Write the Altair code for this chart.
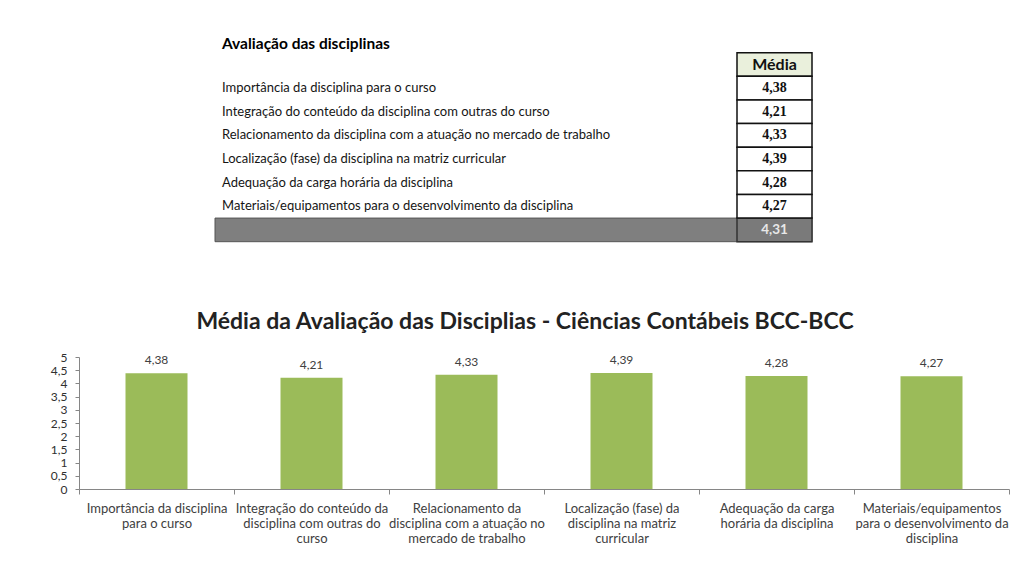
import altair as alt
import pandas as pd

# ---------------- data ----------------
titulo_tabela = "Avaliação das disciplinas"
cabecalho = "Média"
titulo_grafico = "Média da Avaliação das Disciplias - Ciências Contábeis BCC-BCC"

categorias = [
    "Importância da disciplina para o curso",
    "Integração do conteúdo da disciplina com outras do curso",
    "Relacionamento da disciplina com a atuação no mercado de trabalho",
    "Localização (fase) da disciplina na matriz curricular",
    "Adequação da carga horária da disciplina",
    "Materiais/equipamentos para o desenvolvimento da disciplina",
]
rotulos_eixo = [
    "Importância da disciplina|para o curso",
    "Integração do conteúdo  da|disciplina com outras do|curso",
    "Relacionamento da|disciplina com a atuação no|mercado de trabalho",
    "Localização (fase) da|disciplina na matriz|curricular",
    "Adequação da carga|horária da disciplina",
    "Materiais/equipamentos|para o desenvolvimento da|disciplina",
]
medias = [4.38, 4.21, 4.33, 4.39, 4.28, 4.27]
media_geral = 4.31
y_ticks = [0, 0.5, 1, 1.5, 2, 2.5, 3, 3.5, 4, 4.5, 5]

# ---------------- tables ----------------
df = pd.DataFrame({"linha": categorias, "rotulo": rotulos_eixo, "media": medias})
df_head = pd.DataFrame({"linha": [cabecalho], "texto": [cabecalho]})
df_total = pd.DataFrame({"linha": ["Total"], "media": [media_geral]})
linhas = [cabecalho] + categorias + ["Total"]

fmt = "replace(format(datum.media, '.2f'), '.', ',')"

row_scale = alt.Scale(domain=linhas, range=[52.7, 241.7], paddingInner=0, paddingOuter=0)
Yrow = alt.Y("linha:N", scale=row_scale, axis=None)

X0, X1 = 737, 812

head_rect = alt.Chart(df_head).mark_rect(fill="#EAF0DC", stroke="#111", strokeWidth=1.5).encode(
    x=alt.value(X0), x2=alt.value(X1), y=Yrow)
head_text = alt.Chart(df_head).mark_text(font="Lato", fontWeight="bold", fontSize=16, color="#111").encode(
    x=alt.value((X0 + X1) / 2), y=Yrow, text="texto:N")

val_rect = alt.Chart(df).mark_rect(fill="white", stroke="#111", strokeWidth=1.5).encode(
    x=alt.value(X0), x2=alt.value(X1), y=Yrow)
val_text = alt.Chart(df).transform_calculate(lab=fmt).mark_text(
    font="Liberation Serif", fontWeight="bold", fontSize=14, color="#111").encode(
    x=alt.value((X0 + X1) / 2), y=Yrow, text="lab:N")

item_text = alt.Chart(df).mark_text(align="left", font="Lato", fontSize=13, color="#151515").encode(
    x=alt.value(222), y=Yrow, text="linha:N")

tot_rect = alt.Chart(df_total).mark_rect(fill="#7F7F7F", stroke="#555", strokeWidth=1).encode(
    x=alt.value(215), x2=alt.value(X1), y=Yrow)
tot_cell = alt.Chart(df_total).mark_rect(fill="#7A7A7A", stroke="#333", strokeWidth=1.5).encode(
    x=alt.value(X0), x2=alt.value(X1), y=Yrow)
tot_text = alt.Chart(df_total).transform_calculate(lab=fmt).mark_text(
    font="Lato", fontWeight="bold", fontSize=13.5, color="#E8E8E8").encode(
    x=alt.value((X0 + X1) / 2), y=Yrow, text="lab:N")

title_tab = alt.Chart(pd.DataFrame({"t": [titulo_tabela]})).mark_text(
    align="left", font="Lato", fontWeight="bold", fontSize=15.5, color="#000").encode(
    x=alt.value(222), y=alt.value(44), text="t:N")

# ---------------- bar chart ----------------
xs = alt.Scale(domain=rotulos_eixo, range=[79, 1009], paddingInner=0, paddingOuter=0)
ys = alt.Scale(domain=[0, 5], range=[489, 357], nice=False)

bars = alt.Chart(df).mark_bar(color="#9BBB59", width=alt.RelativeBandSize(0.4)).encode(
    x=alt.X("rotulo:N", scale=xs, sort=None, title=None,
            axis=alt.Axis(labelExpr="split(datum.label, '|')", labelAngle=0, offset=-88,
                          tickBand="extent", tickSize=5, tickColor="#868686",
                          domainColor="#868686", labelFont="Lato", labelFontSize=13,
                          labelColor="#404040", labelLineHeight=15, labelPadding=8,
                          labelBaseline="top", labelLimit=0)),
    y=alt.Y("media:Q", scale=ys, title=None,
            axis=alt.Axis(values=y_ticks, labelExpr="replace(toString(datum.value), '.', ',')",
                          offset=-79, tickSize=4, tickColor="#868686", domainColor="#868686",
                          labelFont="Lato", labelFontSize=12, labelColor="#303030",
                          labelPadding=8, grid=False, labelOverlap=False)),
)
bar_labels = alt.Chart(df).transform_calculate(lab=fmt).mark_text(
    font="Lato", fontSize=12, color="#404040", dy=-9, baseline="alphabetic").encode(
    x=alt.X("rotulo:N", scale=xs, sort=None, axis=None),
    y=alt.Y("media:Q", scale=ys, axis=None),
    text="lab:N")

title_bar = alt.Chart(pd.DataFrame({"t": [titulo_grafico]})).mark_text(
    font="Lato", fontWeight="bold", fontSize=23, color="#222").encode(
    x=alt.value(525), y=alt.value(322), text="t:N")

chart = alt.layer(
    tot_rect, tot_cell, head_rect, val_rect, head_text, val_text, item_text, tot_text, title_tab,
    bars, bar_labels, title_bar,
).resolve_scale(x="independent", y="independent").properties(
    width=1024, height=577, autosize=alt.AutoSizeParams(type="none"), padding=0,
    background="white",
).configure_view(stroke=None)

chart.save("out.html", embed_options={"renderer": "svg", "actions": False})
